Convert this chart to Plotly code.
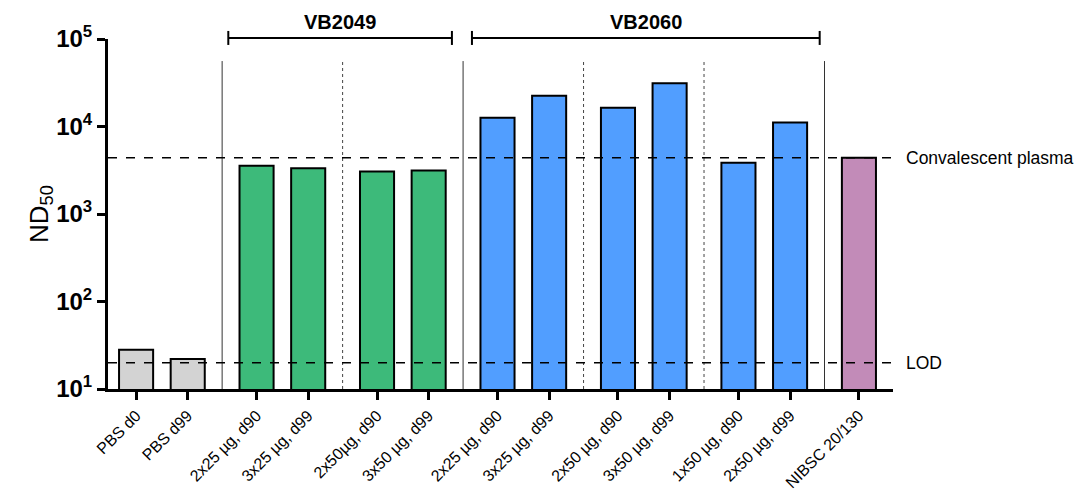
import math
import plotly.graph_objects as go

# Neutralising titres (ND50) per group
labels = [
    "PBS d0", "PBS d99",
    "2x25 µg, d90", "3x25 µg, d99",
    "2x50µg, d90", "3x50 µg, d99",
    "2x25 µg, d90", "3x25 µg, d99",
    "2x50 µg, d90", "3x50 µg, d99",
    "1x50 µg, d90", "2x50 µg, d99",
    "NIBSC 20/130",
]
vaccine = ["PBS", "PBS",
           "VB2049", "VB2049", "VB2049", "VB2049",
           "VB2060", "VB2060", "VB2060", "VB2060", "VB2060", "VB2060",
           "NIBSC"]
regimen = [0, 0, 1, 1, 2, 2, 3, 3, 4, 4, 5, 5, 6]
nd50 = [28, 22, 3550, 3330, 3050, 3150, 12600, 22500, 16400, 31200, 3860, 11100, 4400]

convalescent_plasma = 4400
lod = 20

y_tick_values = [10, 100, 1000, 10000, 100000]
y_tick_labels = ["<b>10<sup>1</sup></b>", "<b>10<sup>2</sup></b>", "<b>10<sup>3</sup></b>",
                 "<b>10<sup>4</sup></b>", "<b>10<sup>5</sup></b>"]

colors = {"PBS": "#D3D3D3", "VB2049": "#3DBA7A", "VB2060": "#519EFF", "NIBSC": "#C28BB8"}

FONT = "Liberation Sans, Arial, sans-serif"
GAP = 1 / 3
xpos = [i + GAP * g for i, g in enumerate(regimen)]
x_lo, x_hi = -0.544, 14.66

fig = go.Figure()
fig.add_trace(go.Bar(
    x=xpos, y=nd50, width=0.66,
    marker=dict(color=[colors[v] for v in vaccine],
                line=dict(color="black", width=2)),
    showlegend=False, hoverinfo="skip",
))

# Reference levels
for level in (convalescent_plasma, lod):
    fig.add_trace(go.Scatter(
        x=[x_lo, x_hi], y=[level, level], mode="lines",
        line=dict(color="black", width=1.5, dash="dash"),
        showlegend=False, hoverinfo="skip", cliponaxis=False,
    ))

# Separators between regimen groups
shapes = []
for i in range(len(xpos) - 1):
    if regimen[i] != regimen[i + 1]:
        mid = (xpos[i] + xpos[i + 1]) / 2
        solid = vaccine[i] != vaccine[i + 1]
        shapes.append(dict(
            type="line", xref="x", yref="paper", x0=mid, x1=mid, y0=0, y1=0.937,
            line=dict(color="#333333" if solid else "#444444", width=1,
                      dash="solid" if solid else "dot"),
            layer="below",
        ))

# Brackets over the vaccine groups
brackets = [("VB2049", 1.786, 6.117), ("VB2060", 6.505, 13.24)]
annotations = []
for name, a, b in brackets:
    shapes.append(dict(type="line", xref="x", yref="paper", x0=a, x1=b, y0=1.003, y1=1.003,
                       line=dict(color="black", width=2)))
    for xx in (a, b):
        shapes.append(dict(type="line", xref="x", yref="paper", x0=xx, x1=xx, y0=0.983, y1=1.023,
                           line=dict(color="black", width=2)))
    annotations.append(dict(text=f"<b>{name}</b>", x=(a + b) / 2, xref="x", y=1.049, yref="paper",
                            showarrow=False, font=dict(size=20, color="black", family=FONT),
                            yanchor="middle", xanchor="center"))

annotations.append(dict(text="Convalescent plasma", x=1.014, xref="paper",
                        y=math.log10(convalescent_plasma), yref="y", xanchor="left", yanchor="middle",
                        showarrow=False, font=dict(size=17.5, color="black", family=FONT)))
annotations.append(dict(text="LOD", x=1.014, xref="paper",
                        y=math.log10(lod), yref="y", xanchor="left", yanchor="middle",
                        showarrow=False, font=dict(size=17.5, color="black", family=FONT)))
annotations.append(dict(text="ND<sub>50</sub>", x=-0.0866, xref="paper", y=0.5, yref="paper",
                        textangle=-90, xanchor="center", yanchor="middle", showarrow=False,
                        font=dict(size=26, color="black", family=FONT)))

fig.update_layout(
    width=1084, height=499,
    margin=dict(l=108, r=191, t=39, b=110),
    plot_bgcolor="white", paper_bgcolor="white",
    font=dict(family=FONT, color="black"),
    shapes=shapes, annotations=annotations,
    xaxis=dict(
        range=[x_lo, x_hi], tickvals=xpos, ticktext=labels, tickangle=-45,
        tickfont=dict(size=16, family=FONT, color="black"),
        showline=True, linecolor="black", linewidth=3,
        ticks="outside", ticklen=8, tickwidth=2.5, tickcolor="black",
        showgrid=False, zeroline=False, automargin=False,
    ),
    yaxis=dict(
        type="log", range=[1, 5], tickvals=y_tick_values, ticktext=y_tick_labels,
        tickfont=dict(size=24, family=FONT, color="black"),
        showline=True, linecolor="black", linewidth=3,
        ticks="outside", ticklen=8, tickwidth=2.5, tickcolor="black",
        showgrid=False, zeroline=False, automargin=False,
    ),
)

fig.write_html("out.html")
